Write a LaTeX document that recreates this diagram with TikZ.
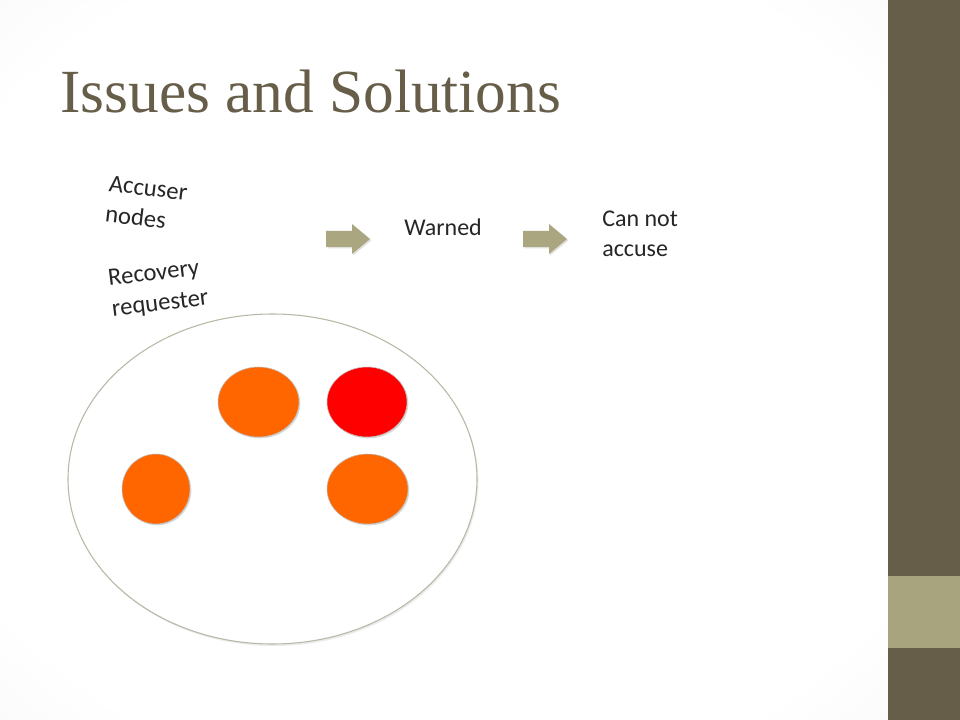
\documentclass[tikz,border=0pt]{standalone}
\usepackage{fontspec}
\setmainfont{Carlito}
\newfontfamily\titlefont{Liberation Serif}
\usepackage{tikz}
\definecolor{tt}{RGB}{102, 94, 72}
\definecolor{ll}{RGB}{168, 164, 126}
\definecolor{ar}{RGB}{170, 167, 128}
\definecolor{oo}{RGB}{255, 102, 0}
\definecolor{rr}{RGB}{255, 0, 0}
\definecolor{gg}{RGB}{185, 183, 165}
\definecolor{bg}{RGB}{224, 224, 224}
\usetikzlibrary{positioning}
\usetikzlibrary{shapes.geometric}
\usetikzlibrary{shadows}
\pgfdeclareradialshading{vignette}{\pgfpoint{0bp}{0bp}}{color(0bp)=(white); color(30bp)=(white); color(72bp)=(bg)}
\def\shaft{26}
\def\head{18}
\newcommand{\blockarrow}[3]{\coordinate (#1) at (#2,#3);
	\fill[ar,drop shadow={opacity=0.25,shadow xshift=1pt,shadow yshift=-1pt}] (#1) ++(0,-8) -- ++(\shaft,0) -- ++(0,-7) -- ++(\head,15) -- ++(-\head,15) -- ++(0,-7) -- ++(-\shaft,0) -- cycle; }
\tikzset{lbl/.style={inner sep=0,text=black!85,font=\fontsize{18}{21}\selectfont,align=left},
	tilted/.style={lbl,anchor=north west,font=\fontsize{18.5}{23}\selectfont},
	dot/.style={ellipse,inner sep=0,draw=black!25,line width=0.4pt,drop shadow={opacity=0.3,shadow xshift=1pt,shadow yshift=-1pt}}}

\begin{document}
\begin{tikzpicture}[x=0.75pt,y=-0.75pt]
\useasboundingbox (0,0) rectangle (960,720);
\shade[shading=vignette] (0,0) rectangle (888,720);
\fill[tt] (888,0) rectangle (960,576);
\fill[ll] (888,576) rectangle (960,648);
\fill[tt] (888,648) rectangle (960,720);

\node[anchor=base west,inner sep=0,text=tt,font=\titlefont\fontsize{46}{50}\selectfont] (title) at (60,113) {Issues and Solutions};

\node[tilted,rotate=-7] (accuser) at (110,175) {Accuser\\nodes};
\node[tilted,rotate=7] (recovery) at (107,270) {Recovery\\requester};
\node[lbl,anchor=base west] (warned) at (404,236) {Warned};
\node[lbl,anchor=north west,font=\fontsize{18}{22.5}\selectfont] (cannot) at (602,211) {Can not\\accuse};

\blockarrow{arrA}{326}{239}
\blockarrow{arrB}{523}{239}

\node[ellipse,inner sep=0,minimum width=306.75pt,minimum height=247.5pt,draw=gg,fill=white,line width=0.8pt,drop shadow={opacity=0.15,shadow xshift=1pt,shadow yshift=-1.5pt}] (group) at (272.5,479) {};
\node[dot,fill=oo,minimum width=60.75pt,minimum height=52.5pt] (n1) at (258.5,402) {};
\node[dot,fill=rr,minimum width=60pt,minimum height=52.5pt] (n2) at (367,402) {};
\node[dot,fill=oo,minimum width=51pt,minimum height=52.5pt] (n3) at (156,489) {};
\node[dot,fill=oo,minimum width=60.75pt,minimum height=52.5pt] (n4) at (367.5,489) {};
\end{tikzpicture}
\end{document}
